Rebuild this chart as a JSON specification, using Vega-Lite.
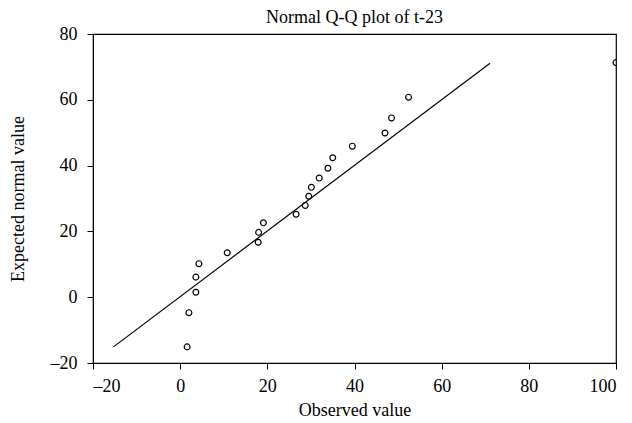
{
  "$schema": "https://vega.github.io/schema/vega-lite/v6.json",
  "autosize": {"type": "none"},
  "width": 523,
  "height": 329,
  "padding": {"left": 93, "top": 34, "right": 16, "bottom": 60},
  "background": "white",
  "config": {
    "font": "Liberation Serif",
    "view": {"stroke": "black", "strokeWidth": 1.2},
    "axis": {
      "grid": false,
      "domain": true,
      "domainColor": "black",
      "tickColor": "black",
      "tickSize": 6,
      "labelColor": "black",
      "titleColor": "black",
      "labelFont": "Liberation Serif",
      "titleFont": "Liberation Serif",
      "labelFontSize": 18,
      "titleFontSize": 18,
      "titleFontWeight": "normal"
    }
  },
  "title": {
    "text": "Normal Q-Q plot of t-23",
    "font": "Liberation Serif",
    "fontSize": 18,
    "fontWeight": "normal",
    "color": "black",
    "anchor": "middle",
    "frame": "group",
    "offset": 11,
    "dy": 13
  },
  "datasets": {
    "points": [
      {"observed": 1.6, "expected": -15.1},
      {"observed": 2.0, "expected": -4.7},
      {"observed": 3.6, "expected": 1.5},
      {"observed": 3.6, "expected": 6.1},
      {"observed": 4.3, "expected": 10.2},
      {"observed": 10.8, "expected": 13.5},
      {"observed": 17.9, "expected": 16.7},
      {"observed": 18.0, "expected": 19.7},
      {"observed": 19.1, "expected": 22.6},
      {"observed": 26.6, "expected": 25.2},
      {"observed": 28.7, "expected": 27.9},
      {"observed": 29.5, "expected": 30.7},
      {"observed": 30.1, "expected": 33.4},
      {"observed": 31.9, "expected": 36.2},
      {"observed": 33.9, "expected": 39.2},
      {"observed": 35.0, "expected": 42.4},
      {"observed": 39.5, "expected": 45.9},
      {"observed": 47.0, "expected": 49.9},
      {"observed": 48.5, "expected": 54.5},
      {"observed": 52.4, "expected": 60.8},
      {"observed": 100.0, "expected": 71.3}
    ],
    "line": [
      {"observed": -15.3, "expected": -15.1},
      {"observed": 71.1, "expected": 71.1}
    ]
  },
  "layer": [
    {
      "data": {"name": "line"},
      "mark": {"type": "line", "color": "black", "strokeWidth": 1.2},
      "encoding": {
        "x": {"field": "observed", "type": "quantitative"},
        "y": {"field": "expected", "type": "quantitative"}
      }
    },
    {
      "data": {"name": "points"},
      "mark": {"type": "point", "shape": "circle", "filled": false, "color": "black", "strokeWidth": 1.2, "size": 34, "clip": true, "opacity": 1},
      "encoding": {
        "x": {
          "field": "observed",
          "type": "quantitative",
          "scale": {"domain": [-20, 100], "nice": false, "zero": false},
          "axis": {"title": "Observed value", "values": [-20, 0, 20, 40, 60, 80, 100], "labelPadding": 8, "titleY": 38, "labelExpr": "replace(datum.label, '−', '–')"}
        },
        "y": {
          "field": "expected",
          "type": "quantitative",
          "scale": {"domain": [-20, 80], "nice": false, "zero": false},
          "axis": {"title": "Expected normal value", "values": [-20, 0, 20, 40, 60, 80], "labelPadding": 10, "titleX": -66, "labelExpr": "replace(datum.label, '−', '–')"}
        }
      }
    }
  ]
}
